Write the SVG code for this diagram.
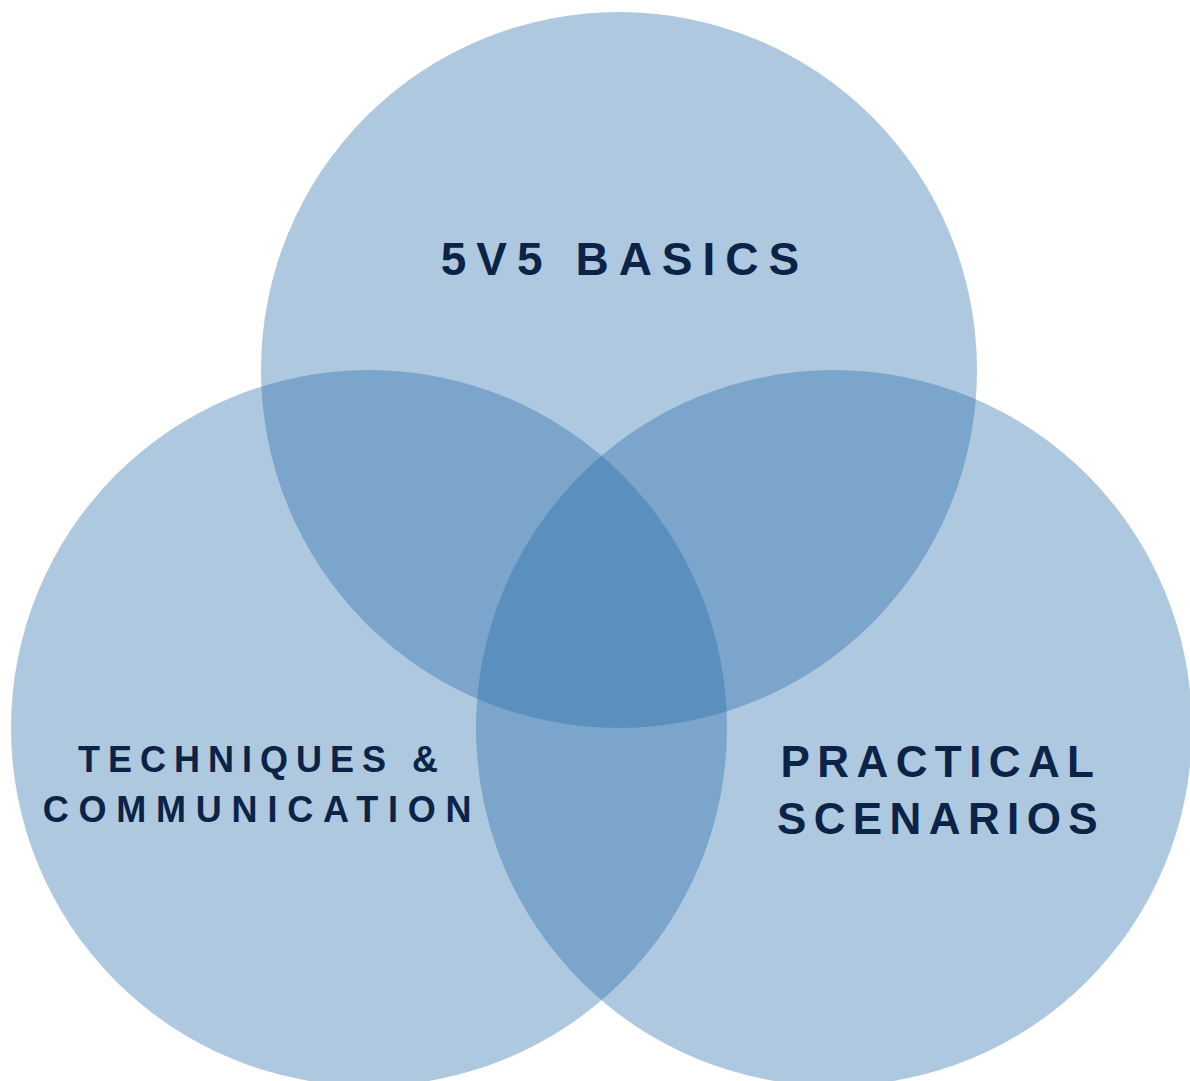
<svg xmlns="http://www.w3.org/2000/svg" width="1190" height="1081" viewBox="0 0 1190 1081">
<style>
.c{fill:#246AA9;fill-opacity:0.37}
.t{font-family:"Liberation Sans",Arial,sans-serif;font-weight:bold;fill:#0B2347;text-anchor:middle}
</style>
<rect width="1190" height="1081" fill="#ffffff"/>
<g id="circle-top"><circle class="c" cx="619" cy="370" r="358"/></g>
<g id="circle-left"><circle class="c" cx="369" cy="728" r="358"/></g>
<g id="circle-right"><circle class="c" cx="834" cy="728" r="358"/></g>
<g id="connectors"></g>
<g id="label-top"><text class="t" x="625" y="275" font-size="46" letter-spacing="10">5V5 BASICS</text></g>
<g id="label-left"><text class="t" font-size="36"><tspan x="262" y="772" letter-spacing="8">TECHNIQUES &amp;</tspan><tspan x="262" y="822" letter-spacing="9.8">COMMUNICATION</tspan></text></g>
<g id="label-right"><text class="t" font-size="44" letter-spacing="7.4"><tspan x="941" y="777">PRACTICAL</tspan><tspan x="941" y="834">SCENARIOS</tspan></text></g>
</svg>
